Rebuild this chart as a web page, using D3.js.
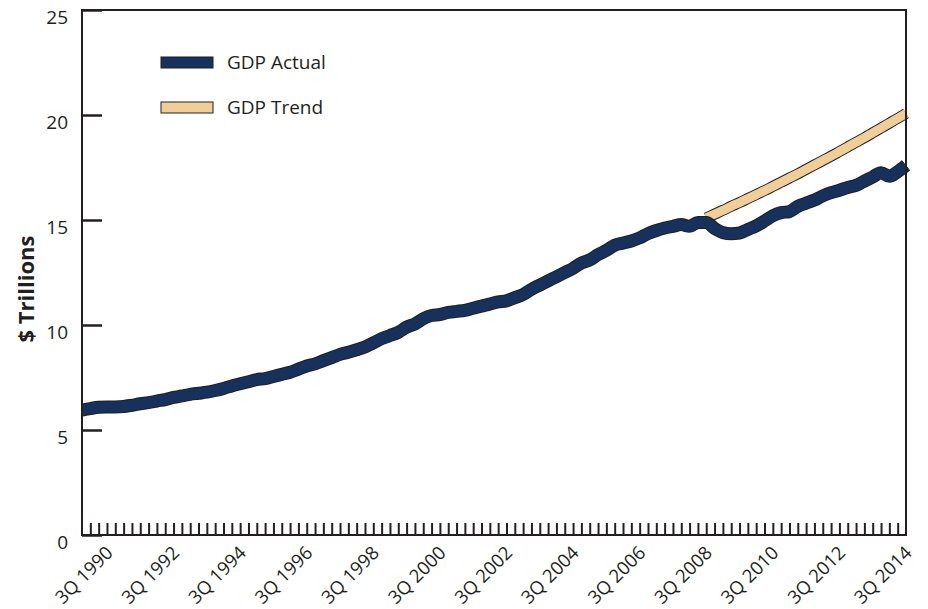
<!DOCTYPE html>
<html>
<head>
<meta charset="utf-8">
<script src="https://cdn.jsdelivr.net/npm/d3@7"></script>
<style>
  html, body { margin: 0; padding: 0; background: #fff; }
  svg { display: block; }
  text { font-family: "Open Sans", "Noto Sans", sans-serif; fill: #231F20; }
</style>
</head>
<body>
<svg id="chart" width="928" height="609"></svg>
<script>
// Quarterly labels: index 0 = 4Q 1989 ... index 99 = 3Q 2014
const tickLabels = ["3Q 1990","3Q 1992","3Q 1994","3Q 1996","3Q 1998","3Q 2000","3Q 2002","3Q 2004","3Q 2006","3Q 2008","3Q 2010","3Q 2012","3Q 2014"];
const tickLabelIndex = [3, 11, 19, 27, 35, 43, 51, 59, 67, 75, 83, 91, 99];

// GDP Actual, $ trillions, one value per quarter from 4Q 1989 to 3Q 2014
const gdpActual = [
  5.95, 6.02, 6.08, 6.10, 6.10, 6.12, 6.18, 6.25, 6.30, 6.38,
  6.45, 6.55, 6.62, 6.70, 6.75, 6.80, 6.88, 6.98, 7.10, 7.20,
  7.30, 7.40, 7.45, 7.55, 7.65, 7.75, 7.90, 8.05, 8.15, 8.30,
  8.45, 8.60, 8.70, 8.82, 8.95, 9.15, 9.35, 9.50, 9.65, 9.90,
  10.05, 10.30, 10.45, 10.50, 10.60, 10.65, 10.70, 10.80, 10.90, 11.00,
  11.10, 11.15, 11.30, 11.45, 11.70, 11.90, 12.10, 12.30, 12.50, 12.70,
  12.95, 13.10, 13.35, 13.55, 13.80, 13.90, 14.00, 14.15, 14.35, 14.50,
  14.62, 14.70, 14.78, 14.70, 14.88, 14.88, 14.60, 14.40, 14.35, 14.38,
  14.55, 14.72, 14.95, 15.20, 15.35, 15.40, 15.65, 15.80, 15.95, 16.15,
  16.30, 16.42, 16.55, 16.65, 16.85, 17.05, 17.25, 17.08, 17.30, 17.60
];

// GDP Trend, starts at index 75 (2008 peak)
const trendStart = 75;
const gdpTrend = [
  15.10, 15.28, 15.46, 15.65, 15.83, 16.02, 16.21, 16.40, 16.60, 16.80,
  17.00, 17.20, 17.41, 17.62, 17.83, 18.04, 18.26, 18.48, 18.70, 18.92,
  19.15, 19.38, 19.61, 19.84, 20.08
];

const yTicks = [0, 5, 10, 15, 20, 25];
const seriesNames = ["GDP Actual", "GDP Trend"];
const seriesColors = ["#16325C", "#F0CE98"];
const axisTitle = "$ Trillions";

(function () {
const svg = d3.select("#chart");
const pLeft = 82, pRight = 906, pTop = 10, pBottom = 535;
const ink = "#231F20";

const x = d3.scaleLinear().domain([0, gdpActual.length - 1]).range([pLeft, pRight]);
const y = d3.scaleLinear().domain([0, 25]).range([pBottom, pTop]);

const actualData = gdpActual.map((v, i) => [i, v]);
const trendData = gdpTrend.map((v, i) => [i + trendStart, v]);

const line = d3.line().x(d => x(d[0])).y(d => y(d[1])).curve(d3.curveMonotoneX);

// Trend line (outline + fill)
svg.append("path").attr("d", line(trendData)).attr("fill", "none")
  .attr("stroke", ink).attr("stroke-width", 11).attr("stroke-linecap", "butt");
svg.append("path").attr("d", line(trendData)).attr("fill", "none")
  .attr("stroke", seriesColors[1]).attr("stroke-width", 9).attr("stroke-linecap", "butt");

// Actual line
svg.append("path").attr("d", line(actualData)).attr("fill", "none")
  .attr("stroke", ink).attr("stroke-width", 13).attr("stroke-linecap", "butt").attr("stroke-linejoin", "round");
svg.append("path").attr("d", line(actualData)).attr("fill", "none")
  .attr("stroke", seriesColors[0]).attr("stroke-width", 11).attr("stroke-linecap", "butt").attr("stroke-linejoin", "round");

// Frame
svg.append("rect").attr("x", pLeft).attr("y", pTop).attr("width", pRight - pLeft).attr("height", pBottom - pTop)
  .attr("fill", "none").attr("stroke", ink).attr("stroke-width", 2);

// Y axis
const yAxis = d3.axisRight(y).tickValues(yTicks).tickSize(20).tickFormat("");
const gy = svg.append("g").attr("transform", `translate(${pLeft},0)`).call(yAxis);
gy.select(".domain").remove();
gy.selectAll("line").attr("stroke", ink).attr("stroke-width", 2.5);
svg.append("g").selectAll("text").data(yTicks).join("text")
  .attr("x", 68).attr("y", d => y(d) + 14)
  .attr("text-anchor", "end").attr("font-size", 19)
  .text(d => d);

// X axis minor ticks (quarterly)
const xAxis = d3.axisTop(x).tickValues(d3.range(1, gdpActual.length - 1)).tickSize(12).tickFormat("");
const gx = svg.append("g").attr("transform", `translate(0,${pBottom})`).call(xAxis);
gx.select(".domain").remove();
gx.selectAll("line").attr("stroke", ink).attr("stroke-width", 2);

// X labels
svg.append("g").selectAll("text").data(tickLabels).join("text")
  .attr("transform", (d, i) => `translate(${x(tickLabelIndex[i]) + 7},${pBottom + 19}) rotate(-45)`)
  .attr("text-anchor", "end").attr("font-size", 18.5)
  .text(d => d);

// Axis title
svg.append("text").attr("transform", "translate(34,289) rotate(-90)")
  .attr("text-anchor", "middle").attr("font-size", 22).attr("font-weight", "bold")
  .text(axisTitle);

// Legend
const legend = svg.append("g");
seriesNames.forEach((name, i) => {
  const ly = 57 + i * 45;
  legend.append("rect").attr("x", 161).attr("y", ly).attr("width", 52).attr("height", 11)
    .attr("fill", seriesColors[i]).attr("stroke", ink).attr("stroke-width", 1);
  legend.append("text").attr("x", 227).attr("y", ly + 12).attr("font-size", 19).text(name);
});
})();
</script>
</body>
</html>
